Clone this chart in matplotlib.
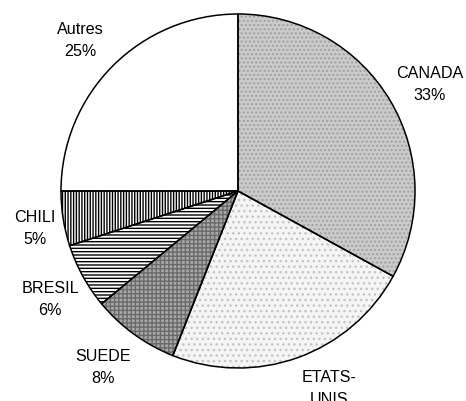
import matplotlib.pyplot as plt

plt.rcParams['font.family'] = ['Liberation Sans', 'DejaVu Sans']

# parts des pays (%)
pays = ["CANADA", "ETATS-UNIS", "SUEDE", "BRESIL", "CHILI", "Autres"]
parts = [33, 23, 8, 6, 5, 25]

# libellés affichés à côté du camembert (le bas est coupé par le cadre)
libelles = ["CANADA\n33%", "ETATS-\nUNIS", "SUEDE\n8%", "BRESIL\n6%", "CHILI\n5%", "Autres\n25%"]
# x du centre, y de la ligne de base de la dernière ligne (pixels depuis le haut)
pos_libelles = [(430, 100), (329, 404), (103, 383), (50, 315), (35, 244), (80, 56)]

# trames façon impression noir et blanc
fonds = ["#cbcbcb", "#f5f5f5", "#a8a8a8", "white", "white", "white"]
trames = ["....", "...", "++++", "-----", "||||||", None]
couleurs_trame = ["#a0a0a0", "#c4c4c4", "#6a6a6a", "black", "black", "black"]

W, H = 466, 401
fig = plt.figure(figsize=(W / 100, H / 100), dpi=100)
ax = fig.add_axes([0, 0, 1, 1])

centre = (238, H - 191)
rayon = 177

# remplissage et trames
wedges, _ = ax.pie(parts, startangle=90, counterclock=False, center=centre,
                   radius=rayon, frame=True,
                   wedgeprops=dict(linewidth=0))
for w, fc, h, hc in zip(wedges, fonds, trames, couleurs_trame):
    w.set_facecolor(fc)
    w.set_edgecolor(hc)
    w.set_hatch(h)

# contours noirs
ax.pie(parts, startangle=90, counterclock=False, center=centre, radius=rayon,
       frame=True, wedgeprops=dict(fill=False, edgecolor="black", linewidth=1.1))

ax.set_xlim(0, W)
ax.set_ylim(0, H)
ax.set_aspect("equal")
ax.axis("off")

for txt, (x, y) in zip(libelles, pos_libelles):
    ax.text(x, H - y, txt, ha="center", va="baseline", multialignment="center",
            fontsize=11.6, linespacing=1.57)

fig.savefig("out.png", dpi=100)
